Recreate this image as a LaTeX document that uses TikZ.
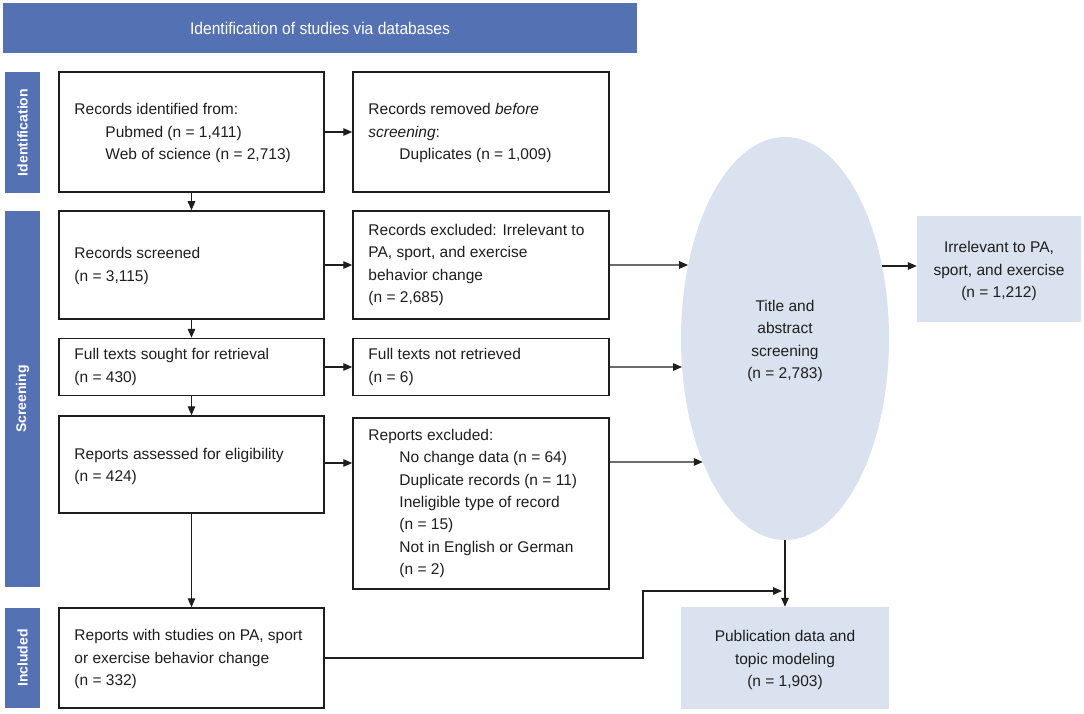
\documentclass[tikz,border=0pt]{standalone}
\usepackage{fontspec}
\setmainfont{Liberation Sans}
\usetikzlibrary{arrows.meta,shapes.geometric,intersections}
\definecolor{hdrblue}{RGB}{84,113,180}
\definecolor{lightblue}{RGB}{218,226,239}
\definecolor{ink}{RGB}{30,30,30}
\begin{document}
\begin{tikzpicture}[x=1pt,y=-1pt,
  box/.style={draw=ink,line width=1.5pt,fill=white,inner sep=0pt,minimum width=265pt},
  mbox/.style={draw=ink,line width=1.5pt,fill=white,inner sep=0pt,minimum width=256pt},
  txt/.style={anchor=west,align=left,inner sep=0pt,text=ink,font=\fontsize{15.5}{22.3}\selectfont},
  ctxt/.style={align=center,inner sep=0pt,text=ink,font=\fontsize{15.5}{22.3}\selectfont},
  side/.style={fill=hdrblue,inner sep=0pt,minimum width=35pt},
  sidetxt/.style={rotate=90,text=white,font=\fontsize{14}{16}\selectfont\bfseries},
  lbox/.style={fill=lightblue,inner sep=0pt},
  arr/.style={draw=ink,line width=1.3pt,-{Triangle[length=9pt,width=7.5pt]}}
]
\useasboundingbox (0,0) rectangle (1084,714);
\fill[white] (0,0) rectangle (1084,714);

% header
\node[fill=hdrblue,minimum width=634pt,minimum height=50pt,inner sep=0pt] (hdr) at (320,28)
  {\scalebox{0.92}[1]{\color{white}\fontsize{17}{19}\selectfont Identification of studies via databases}};

% side bars
\node[side,minimum height=121pt] (sid) at (22.5,132.5) {};
\node[sidetxt] at (sid.center) {Identification};
\node[side,minimum height=376pt] (sscr) at (22.5,399) {};
\node[sidetxt] at (sscr.center) {Screening};
\node[side,minimum height=100pt] (sinc) at (22.5,658) {};
\node[sidetxt] at (sinc.center) {Included};

% left column
\node[box,minimum height=120pt] (b1) at (191.5,132) {};
\node[txt] at ([xshift=16pt,yshift=-1pt]b1.west) {Records identified from:\\\hspace*{31pt}Pubmed (n = 1,411)\\\hspace*{31pt}Web of science (n = 2,713)};
\node[box,minimum height=108pt] (b2) at (191.5,265) {};
\node[txt] at ([xshift=16pt,yshift=-1pt]b2.west) {Records screened\\(n = 3,115)};
\node[box,minimum height=57pt] (b3) at (191.5,367) {};
\node[txt] at ([xshift=16pt]b3.west) {Full texts sought for retrieval\\(n = 430)};
\node[box,minimum height=97pt] (b4) at (191.5,464.5) {};
\node[txt] at ([xshift=16pt,yshift=-2pt]b4.west) {Reports assessed for eligibility\\(n = 424)};
\node[box,minimum height=100pt] (b5) at (191.5,658) {};
\node[txt] at ([xshift=16pt,yshift=-1pt]b5.west) {Reports with studies on PA, sport\\or exercise behavior change\\(n = 332)};

% middle column
\node[mbox,minimum height=120pt] (m1) at (481,132) {};
\node[txt] at ([xshift=16pt,yshift=-1pt]m1.west) {Records removed \textit{before}\\\textit{screening}:\\\hspace*{31pt}Duplicates (n = 1,009)};
\node[mbox,minimum height=108pt] (m2) at (481,265) {};
\node[txt] at ([xshift=16pt]m2.west) {Records excluded: Irrelevant to\\PA, sport, and exercise\\behavior change\\(n = 2,685)};
\node[mbox,minimum height=57pt] (m3) at (481,367) {};
\node[txt] at ([xshift=16pt]m3.west) {Full texts not retrieved\\(n = 6)};
\node[mbox,minimum height=171pt] (m4) at (481,503.5) {};
\node[txt] at ([xshift=16pt]m4.west) {Reports excluded:\\\hspace*{31pt}No change data (n = 64)\\\hspace*{31pt}Duplicate records (n = 11)\\\hspace*{31pt}Ineligible type of record\\\hspace*{31pt}(n = 15)\\\hspace*{31pt}Not in English or German\\\hspace*{31pt}(n = 2)};

% ellipse
\node[ellipse,fill=lightblue,minimum width=208pt,minimum height=403pt,inner sep=0pt] (ell) at (785,338.5) {};
\path[name path=ellp] (785,338.5) ellipse [x radius=104, y radius=201.5];
\node[ctxt] at (785,341) {Title and\\abstract\\screening\\(n = 2,783)};

% right boxes
\node[lbox,minimum width=164pt,minimum height=106pt] (irr) at (999,269) {};
\node[ctxt] at (999,271) {Irrelevant to PA,\\sport, and exercise\\(n = 1,212)};
\node[lbox,minimum width=208pt,minimum height=102pt] (pub) at (785,658) {};
\node[ctxt] at (785,660) {Publication data and\\topic modeling\\(n = 1,903)};

% vertical arrows
\draw[arr] (b1.south) -- (b2.north);
\draw[arr] (b2.south) -- (b3.north);
\draw[arr] (b3.south) -- (b4.north);
\draw[arr] (b4.south) -- (b5.north);

% horizontal arrows
\draw[arr] (b1.east) -- (m1.west);
\draw[arr] (b2.east) -- (m2.west);
\draw[arr] (b3.east) -- (m3.west);
\draw[arr] ([yshift=1.5pt]b4.east) -- ([yshift=1.5pt]b4.east -| m4.west);

% to ellipse
\path[name path=h2] (m2.east) -- ++(200,0);
\path[name intersections={of=ellp and h2,by=i2}];
\draw[arr] (m2.east) -- (i2);
\path[name path=h3] (m3.east) -- ++(200,0);
\path[name intersections={of=ellp and h3,by=i3}];
\draw[arr] (m3.east) -- (i3);
\path[name path=h4] ([yshift=41.5pt]m4.east) -- ++(200,0);
\path[name intersections={of=ellp and h4,by=i4}];
\draw[arr] ([yshift=41.5pt]m4.east) -- (i4);

% ellipse to irrelevant
\path[name path=h5] (785,266) -- (1000,266);
\path[name intersections={of=ellp and h5,by=i5}];
\draw[arr] (i5) -- (i5 -| irr.west);

% ellipse to publication
\draw[arr] (ell.south) -- (pub.north);

% included to junction
\coordinate (bendx) at (643,591);
\coordinate (j) at (782,591);
\draw[arr] (b5.east) -| (bendx) -- (j);
\end{tikzpicture}
\end{document}
